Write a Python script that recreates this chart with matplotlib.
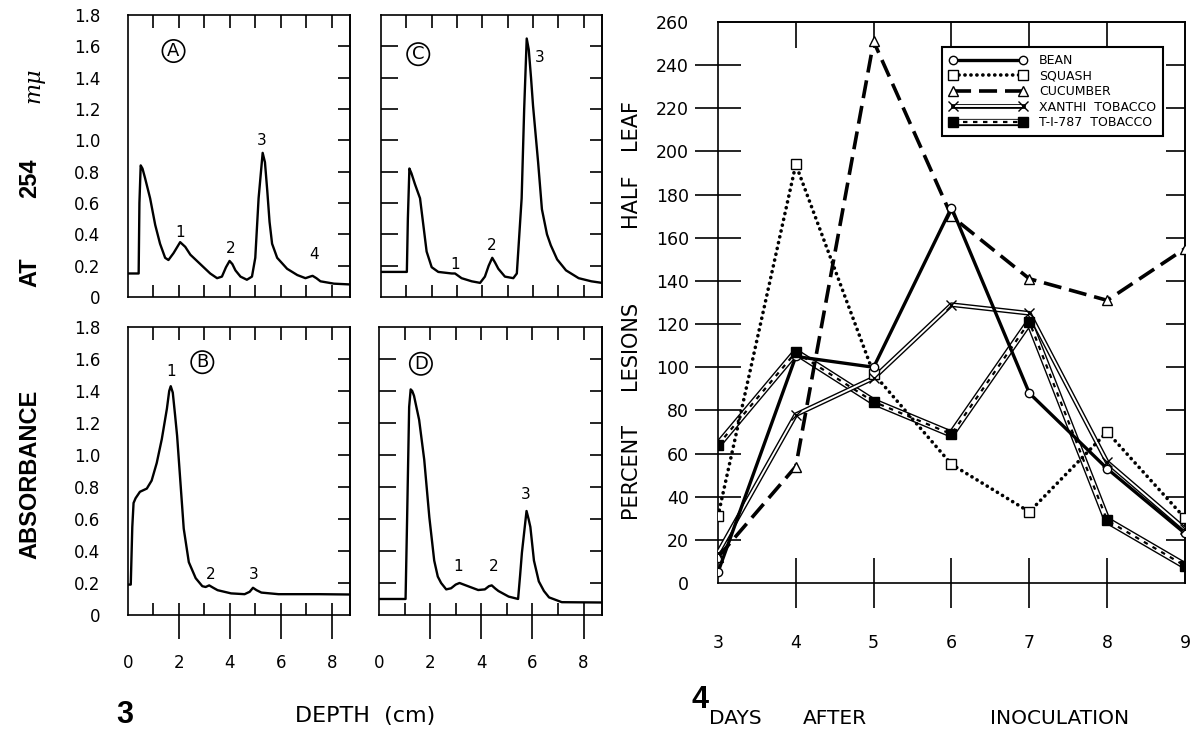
import matplotlib
matplotlib.use("Agg")
import matplotlib.pyplot as plt
from matplotlib.legend_handler import HandlerTuple

# ---------------- data: Fig. 3 (absorbance profiles) ----------------
depth_A = [0.0, 0.42, 0.45, 0.50, 0.57, 0.67, 0.87, 1.07, 1.26, 1.46, 1.59, 1.79, 2.05, 2.25, 2.45,
           2.84, 3.23, 3.50, 3.69, 3.85, 3.99, 4.10, 4.22, 4.42, 4.67, 4.87, 5.00, 5.13, 5.29, 5.38,
           5.47, 5.56, 5.66, 5.86, 6.25, 6.65, 6.97, 7.15, 7.25, 7.40, 7.56, 8.09, 8.72]
abs_A = [0.15, 0.15, 0.60, 0.84, 0.82, 0.76, 0.63, 0.46, 0.34, 0.25, 0.236, 0.28, 0.35, 0.32, 0.27,
         0.21, 0.15, 0.12, 0.13, 0.19, 0.23, 0.21, 0.17, 0.13, 0.11, 0.13, 0.25, 0.63, 0.92, 0.86,
         0.68, 0.48, 0.34, 0.25, 0.18, 0.14, 0.12, 0.13, 0.135, 0.12, 0.10, 0.085, 0.08]

depth_B = [0.0, 0.11, 0.17, 0.22, 0.30, 0.47, 0.74, 0.93, 1.13, 1.33, 1.53, 1.62, 1.68, 1.76, 1.85,
           1.93, 2.06, 2.19, 2.39, 2.66, 2.92, 3.05, 3.19, 3.35, 3.52, 4.05, 4.58, 4.78, 4.91, 5.05,
           5.24, 5.91, 7.50, 8.72]
abs_B = [0.19, 0.19, 0.55, 0.70, 0.73, 0.77, 0.79, 0.84, 0.95, 1.10, 1.29, 1.40, 1.43, 1.39, 1.25,
         1.12, 0.83, 0.54, 0.33, 0.23, 0.18, 0.175, 0.185, 0.17, 0.155, 0.135, 0.13, 0.145, 0.17, 0.155,
         0.14, 0.13, 0.13, 0.128]

depth_C = [0.0, 1.02, 1.06, 1.12, 1.20, 1.34, 1.54, 1.67, 1.80, 2.00, 2.26, 2.79, 2.92, 3.18, 3.58,
           3.91, 4.10, 4.25, 4.39, 4.50, 4.63, 4.89, 5.22, 5.36, 5.55, 5.65, 5.75, 5.83, 5.92, 6.00,
           6.20, 6.35, 6.55, 6.70, 6.95, 7.30, 7.80, 8.30, 8.72]
abs_C = [0.16, 0.16, 0.50, 0.82, 0.79, 0.72, 0.63, 0.46, 0.29, 0.19, 0.16, 0.15, 0.15, 0.12, 0.10,
         0.09, 0.13, 0.20, 0.25, 0.22, 0.18, 0.13, 0.12, 0.15, 0.63, 1.20, 1.65, 1.58, 1.40, 1.22,
         0.86, 0.56, 0.40, 0.33, 0.24, 0.17, 0.12, 0.10, 0.09]

depth_D = [0.0, 1.04, 1.10, 1.18, 1.24, 1.30, 1.37, 1.57, 1.77, 1.97, 2.16, 2.30, 2.43, 2.63, 2.82,
           3.00, 3.15, 3.48, 3.88, 4.14, 4.30, 4.41, 4.55, 4.67, 5.07, 5.44, 5.52, 5.59, 5.77, 5.85,
           5.92, 6.06, 6.25, 6.45, 6.65, 7.15, 8.72]
abs_D = [0.10, 0.10, 0.60, 1.30, 1.41, 1.40, 1.37, 1.22, 0.97, 0.61, 0.34, 0.24, 0.20, 0.16, 0.167,
         0.19, 0.20, 0.18, 0.156, 0.16, 0.18, 0.185, 0.165, 0.15, 0.115, 0.10, 0.25, 0.39, 0.65, 0.60,
         0.55, 0.34, 0.21, 0.15, 0.11, 0.08, 0.078]

# peak labels (text, depth, absorbance)
peaks_A = [("1", 2.05, 0.41), ("2", 4.02, 0.31), ("3", 5.27, 1.00), ("4", 7.30, 0.27)]
peaks_B = [("1", 1.69, 1.52), ("2", 3.26, 0.25), ("3", 4.94, 0.25)]
peaks_C = [("1", 2.92, 0.21), ("2", 4.37, 0.33), ("3", 6.25, 1.53)]
peaks_D = [("1", 3.10, 0.30), ("2", 4.47, 0.30), ("3", 5.75, 0.75)]
panel_letters = ["A", "B", "C", "D"]
letter_pos = [(1.79, 1.57), (2.92, 1.58), (1.47, 1.55), (1.64, 1.57)]

abs_ticks = [0, 0.2, 0.4, 0.6, 0.8, 1.0, 1.2, 1.4, 1.6, 1.8]
abs_ticklabels = ["0", "0.2", "0.4", "0.6", "0.8", "1.0", "1.2", "1.4", "1.6", "1.8"]
depth_ticks = [0, 2, 4, 6, 8]

# ---------------- data: Fig. 4 (percent lesions) ----------------
days = [3, 4, 5, 6, 7, 8, 9]
bean = [5, 105, 100, 174, 88, 53, 23]
squash = [31, 194, 97, 55, 33, 70, 30]
cucumber = [12, 54, 251, 170, 141, 131, 155]
xanthi = [14, 78, 95, 129, 125, 56, 25]
t1787 = [64, 107, 84, 69, 121, 29, 8]
series_names = ["BEAN", "SQUASH", "CUCUMBER", "XANTHI  TOBACCO", "T-I-787  TOBACCO"]
pct_ticks = list(range(0, 261, 20))

# ---------------- figure ----------------
plt.rcParams["font.family"] = ["DejaVu Sans"]
fig = plt.figure(figsize=(11.97, 7.43), dpi=100)

SPW = 1.2


def side_ticks(ax, side, ticks, length):
    if side in ("top", "bottom"):
        sec = ax.secondary_xaxis(side)
        sec.set_xticks(ticks)
        sec.tick_params(direction="in", length=length, width=SPW, labeltop=False, labelbottom=False)
    else:
        sec = ax.secondary_yaxis(side)
        sec.set_yticks(ticks)
        sec.tick_params(direction="in", length=length, width=SPW, labelright=False, labelleft=False)
    for s in sec.spines.values():
        s.set_linewidth(SPW)
    return sec


def panel(rect, xs, ys, peaks, letter, lpos, ylabels, xlabels):
    ax = fig.add_axes(rect)
    ax.plot(xs, ys, color="black", lw=1.7, solid_joinstyle="round")
    ax.set_xlim(0, 8.72)
    ax.set_ylim(0, 1.8)
    for s in ax.spines.values():
        s.set_linewidth(SPW)
    ax.xaxis.remove_overlapping_locs = False
    # x axis
    ax.set_xticks([1, 2, 3, 4, 5, 6, 7, 8], minor=True)
    ax.tick_params(axis="x", which="minor", direction="in", length=9, width=SPW, top=True, bottom=True)
    if xlabels:
        ax.set_xticks(depth_ticks)
        ax.set_xticklabels([str(t) for t in depth_ticks])
        ax.tick_params(axis="x", which="major", direction="out", length=17, width=SPW, pad=11,
                       labelsize=12)
        ax.xaxis.get_major_ticks()[0].tick1line.set_visible(False)
    else:
        ax.set_xticks([])
    # y axis
    ax.set_yticks([0.2, 0.4, 0.6, 0.8, 1.0, 1.2, 1.4, 1.6], minor=True)
    if ylabels:
        ax.set_yticks(abs_ticks)
        ax.set_yticklabels(abs_ticklabels)
        ax.tick_params(axis="y", which="major", length=0, pad=20, labelsize=12)
        ax.tick_params(axis="y", which="minor", direction="inout", length=27, width=SPW,
                       left=True, right=False)
    else:
        ax.set_yticks([])
        ax.tick_params(axis="y", which="minor", direction="in", length=12, width=SPW,
                       left=True, right=False)
    side_ticks(ax, "right", [0.2, 0.4, 0.6, 0.8, 1.0, 1.2, 1.4, 1.6], 9)
    for t, x, y in peaks:
        ax.text(x, y, t, fontsize=11, ha="center", va="center")
    ax.text(lpos[0], lpos[1], letter, fontsize=13, ha="center", va="center",
            bbox=dict(boxstyle="circle,pad=0.12", fc="white", ec="black", lw=1.2))
    return ax


panel([0.1069, 0.6003, 0.1855, 0.3795], depth_A, abs_A, peaks_A, panel_letters[0], letter_pos[0], True, False)
panel([0.1069, 0.1723, 0.1855, 0.3876], depth_B, abs_B, peaks_B, panel_letters[1], letter_pos[1], True, True)
panel([0.3183, 0.6003, 0.1846, 0.3795], depth_C, abs_C, peaks_C, panel_letters[2], letter_pos[2], False, False)
panel([0.3166, 0.1723, 0.1863, 0.3876], depth_D, abs_D, peaks_D, panel_letters[3], letter_pos[3], False, True)

# left y label pieces
fig.text(0.025, 0.361, "ABSORBANCE", rotation=90, fontsize=17, fontweight="bold",
         family="Liberation Sans", ha="center", va="center")
fig.text(0.025, 0.634, "AT", rotation=90, fontsize=17, fontweight="bold",
         family="Liberation Sans", ha="center", va="center")
fig.text(0.025, 0.760, "254", rotation=90, fontsize=17, fontweight="bold",
         family="Liberation Sans", ha="center", va="center")
fig.text(0.028, 0.886, "m\u03bc", rotation=90, fontsize=16, style="italic",
         family="DejaVu Serif", ha="center", va="center")
fig.text(0.1044, 0.0377, "3", fontsize=22, fontweight="bold", family="Liberation Sans",
         ha="center", va="center")
fig.text(0.305, 0.0363, "DEPTH  (cm)", fontsize=16, ha="center", va="center")

# ---------------- right chart ----------------
ax = fig.add_axes([0.5998, 0.2153, 0.3902, 0.7551])
ax.set_xlim(3, 9)
ax.set_ylim(0, 260)
for s in ax.spines.values():
    s.set_linewidth(SPW)

h_bean = ax.plot(days, bean, color="black", lw=2.4, marker="o", ms=6, mfc="white", mec="black",
                 mew=1.0, zorder=6)[0]
h_squash = ax.plot(days, squash, color="black", lw=2.6, ls=(0, (0.05, 1.6)), dash_capstyle="round",
                   marker="s", ms=6.5, mfc="white", mec="black", mew=1.0, zorder=5)[0]
h_cuc = ax.plot(days, cucumber, color="black", lw=2.6, ls=(0, (5, 2.2)), marker="^", ms=6.5,
                mfc="white", mec="black", mew=1.0, zorder=5)[0]
hx1 = ax.plot(days, xanthi, color="black", lw=3.4, zorder=3)[0]
hx2 = ax.plot(days, xanthi, color="white", lw=1.4, zorder=3.1)[0]
hx3 = ax.plot(days, xanthi, ls="none", marker="x", ms=6.5, mec="black", mew=1.0, zorder=7)[0]
ht1 = ax.plot(days, t1787, color="black", lw=5.2, zorder=2)[0]
ht2 = ax.plot(days, t1787, color="white", lw=3.2, zorder=2.1)[0]
ht3 = ax.plot(days, t1787, color="black", lw=1.6, ls=(0, (2, 2.5)), zorder=2.2)[0]
ht4 = ax.plot(days, t1787, ls="none", marker="s", ms=6.5, mfc="black", mec="black", zorder=7)[0]

ax.xaxis.remove_overlapping_locs = False
ax.yaxis.remove_overlapping_locs = False
ax.set_xticks(days)
ax.set_xticklabels([str(d) for d in days])
ax.tick_params(axis="x", which="major", length=0, pad=37, labelsize=12.5)
ax.set_xticks([4, 5, 6, 7, 8], minor=True)
ax.tick_params(axis="x", which="minor", direction="inout", length=36, width=SPW, top=False)
ax.set_yticks(pct_ticks)
ax.set_yticklabels([str(p) for p in pct_ticks])
ax.tick_params(axis="y", which="major", length=0, pad=21, labelsize=12.5)
ax.set_yticks(list(range(20, 241, 20)), minor=True)
ax.tick_params(axis="y", which="minor", direction="inout", length=33, width=SPW, right=False)
side_ticks(ax, "right", list(range(20, 241, 20)), 14)
side_ticks(ax, "top", [4, 5, 6, 7, 8], 19)

leg = ax.legend([h_bean, h_squash, h_cuc, (hx1, hx2, hx3), (ht1, ht2, ht3, ht4)], series_names,
                handler_map={tuple: HandlerTuple(ndivide=1)},
                loc="upper right", bbox_to_anchor=(0.953, 0.955), frameon=True, fancybox=False,
                edgecolor="black", framealpha=1, fontsize=9, handlelength=6.2, numpoints=2,
                labelspacing=0.2, borderpad=0.55, handletextpad=1.0, borderaxespad=0)
leg.get_frame().set_linewidth(1.5)

for txt, yy in [("PERCENT", 0.3674), ("LESIONS", 0.5357), ("HALF", 0.731), ("LEAF", 0.832)]:
    fig.text(0.5263, yy, txt, rotation=90, fontsize=15, ha="center", va="center")
fig.text(0.5848, 0.0579, "4", fontsize=22, fontweight="bold", family="Liberation Sans",
         ha="center", va="center")
for txt, xx in [("DAYS", 0.614), ("AFTER", 0.6975), ("INOCULATION", 0.8855)]:
    fig.text(xx, 0.0336, txt, fontsize=14.5, ha="center", va="center")

fig.savefig("out.png", dpi=100)
